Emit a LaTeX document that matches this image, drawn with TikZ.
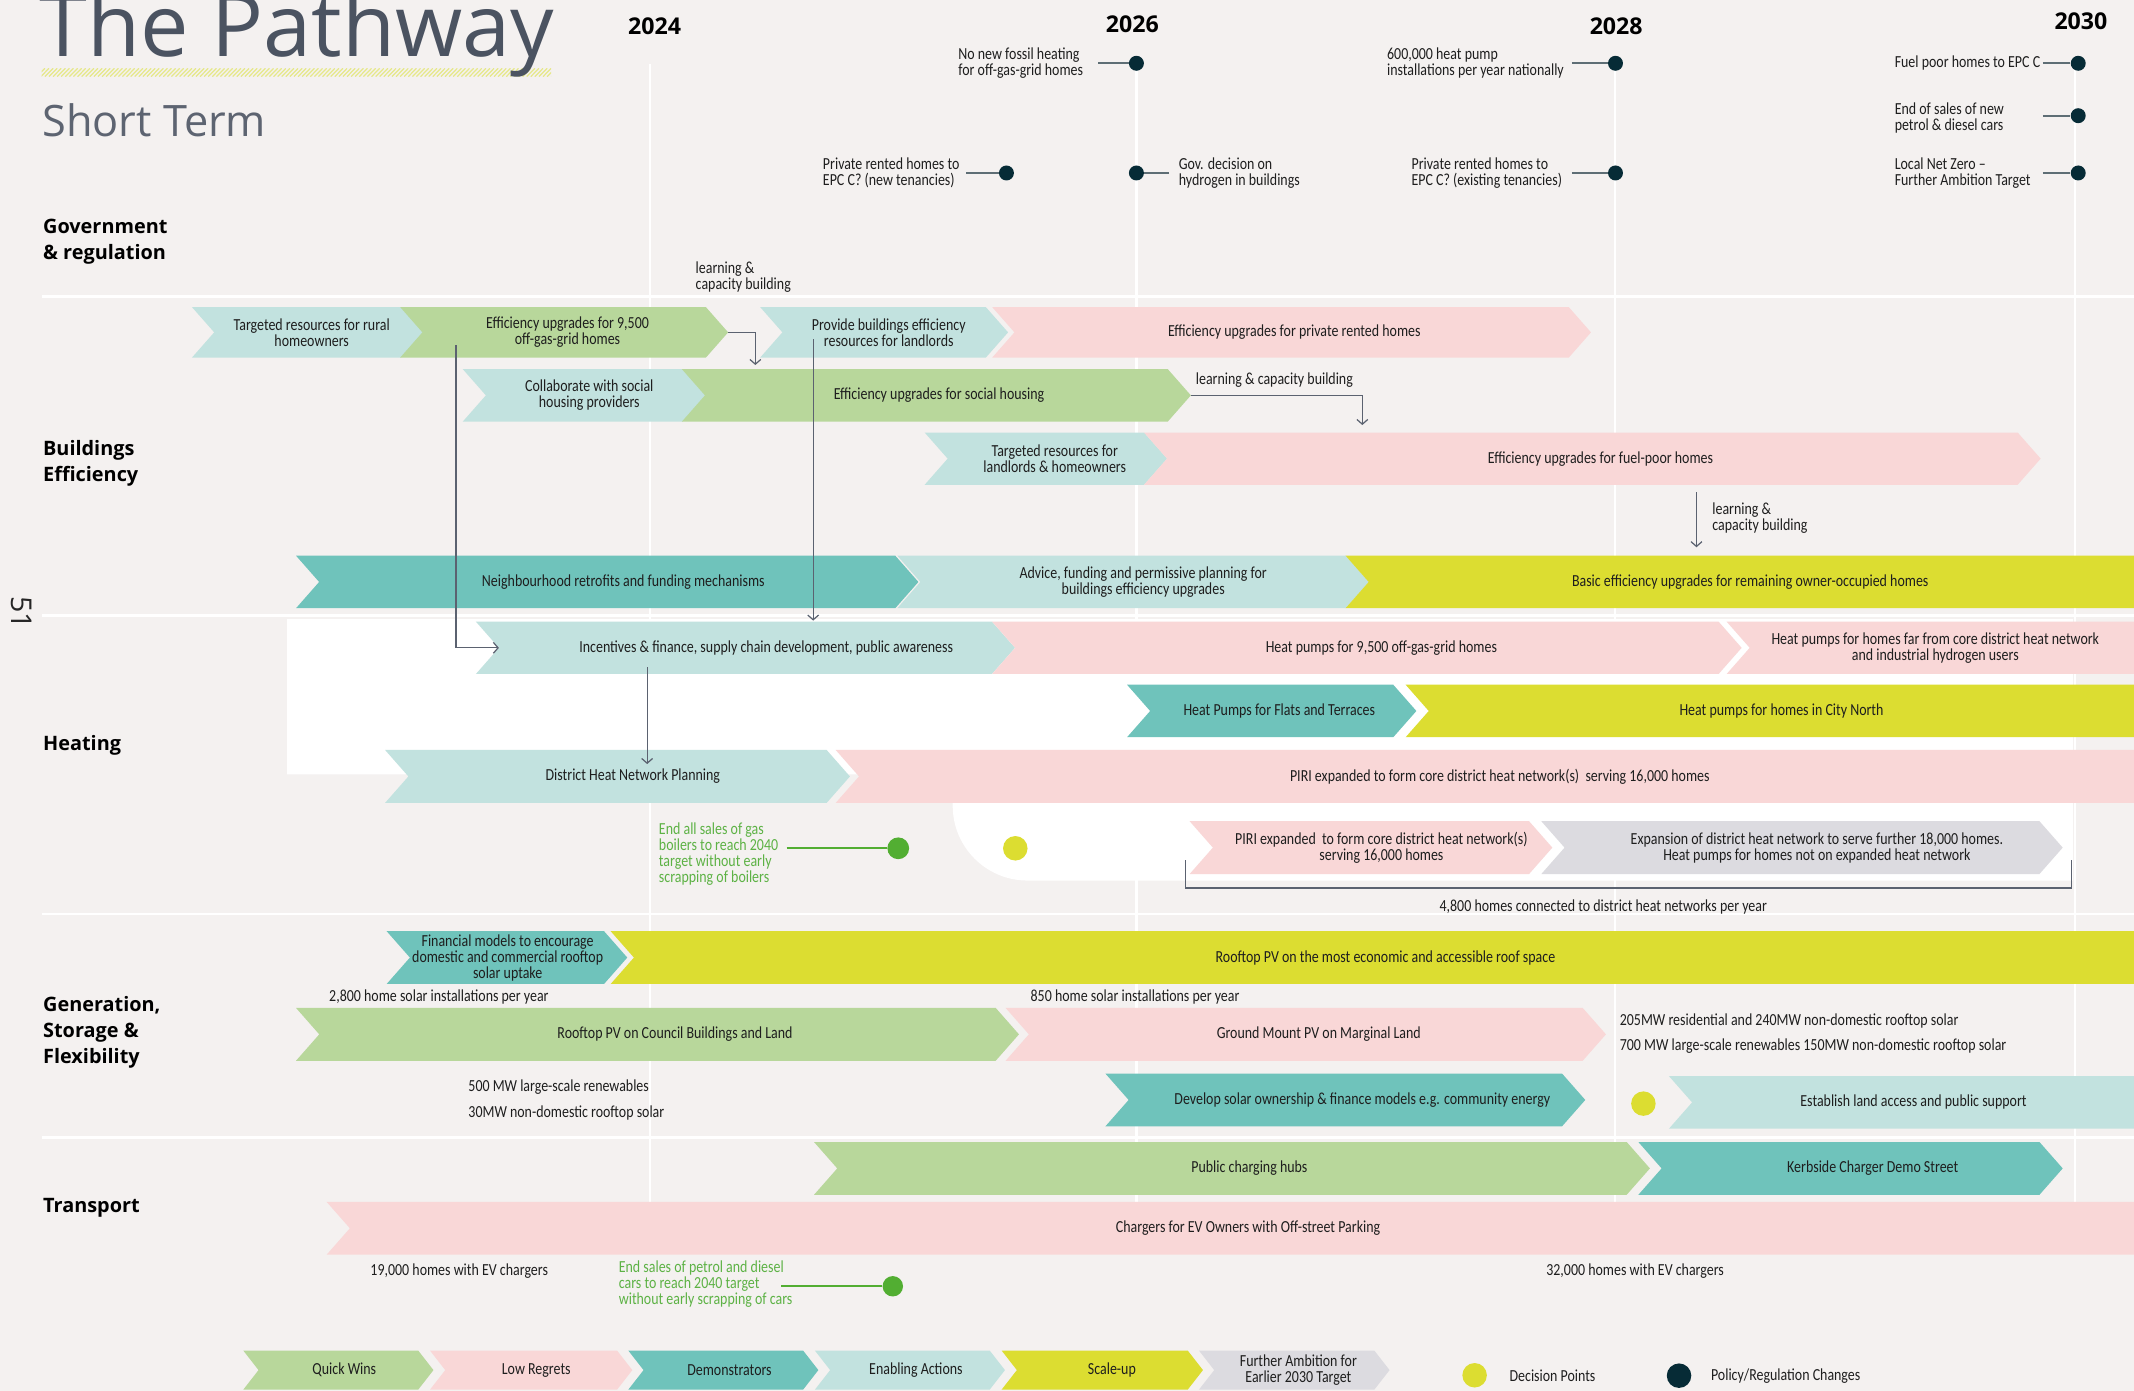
\documentclass[tikz,border=0pt]{standalone}
\usepackage{fontspec}
\usetikzlibrary{arrows.meta}
\newfontfamily\lblfont{Carlito}[FakeStretch=0.826]
\newfontfamily\hdfont{Open Sans}
\definecolor{bgc}{HTML}{F4F1F0}
\definecolor{lteal}{HTML}{C2E2DF}
\definecolor{lgreen}{HTML}{B8D79B}
\definecolor{lpink}{HTML}{F9D7D7}
\definecolor{tealc}{HTML}{6FC3BB}
\definecolor{yel}{HTML}{DCDD31}
\definecolor{lgrey}{HTML}{DCDBE0}
\definecolor{navy}{HTML}{062B36}
\definecolor{gdotc}{HTML}{52AE32}
\definecolor{gtext}{HTML}{5DB245}
\definecolor{labc}{HTML}{1E1E1E}
\definecolor{connc}{HTML}{5B6270}
\definecolor{plinec}{HTML}{5E6E75}
\definecolor{titlec}{HTML}{4B5361}
\definecolor{hatchc}{HTML}{E6E88A}
\def\dratio{0.88}
\newcommand\chev[8]{%
  \pgfmathsetmacro\dd{\dratio*#5}%
  \fill[#6] (#2,#4-#5) -- (#3-\dd,#4-#5) -- (#3,#4) -- (#3-\dd,#4+#5) -- (#2,#4+#5) -- (#2+\dd,#4) -- cycle;
  \coordinate (#1-tip) at (#3,#4);
  \coordinate (#1-notch) at (#2+\dd,#4);
  \node[lbl] (#1) at (#7,#4) {#8};
}
\begin{document}
\begin{tikzpicture}[x=1pt,y=-1pt,
  lbl/.style={font={\lblfont\fontsize{12.4}{11.7}\selectfont}, text=labc, align=center, inner sep=0pt},
  ann/.style={font={\lblfont\fontsize{12.4}{11.7}\selectfont}, text=labc, align=left, anchor=west, inner sep=0pt},
  gann/.style={ann, text=gtext},
  conn/.style={draw=connc, line width=0.9pt, -{Straight Barb[length=3.5pt,width=8pt]}},
  pline/.style={draw=plinec, line width=1.3pt},
  gline/.style={draw=gdotc, line width=1.2pt},
  brk/.style={draw=connc, line width=1pt},
  pdot/.style={circle, fill=navy, inner sep=0pt, minimum size=11pt},
  ydot/.style={circle, fill=yel, inner sep=0pt, minimum size=18pt},
  gdot/.style={circle, fill=gdotc, inner sep=0pt, minimum size=16pt},
  heading/.style={font={\hdfont\bfseries\fontsize{14.6}{19}\selectfont}, text=black, align=left, anchor=west, inner sep=0pt},
  year/.style={font={\hdfont\bfseries\fontsize{17}{20}\selectfont}, text=black, anchor=base, inner sep=0pt},
  gridl/.style={draw=white, line width=2pt}]
\clip (0,0) rectangle (1568,1022);
\fill[bgc] (0,0) rectangle (1568,1022);
% hatch under title
\begin{scope}
  \clip (30.6,50.2) rectangle (405,56.3);
  \foreach \x in {24,27,...,410} \draw[hatchc, line width=0.9pt] (\x,56.3) -- (\x+6,50.2);
\end{scope}
% grid
\foreach \x in {477.6,834.8,1186.6,1524.6} \draw[gridl] (\x,47) -- (\x,883);
\foreach \y in {218,452,671.6,836} \draw[gridl] (30.6,\y) -- (1568,\y);
% white heating area
\fill[white] (211,455) -- (1523,455) -- (1523,647) -- (755,647) .. controls (724.6,647) and (700,622.4) .. (700,592) -- (700,569) -- (211,569) -- cycle;

% titles
\node[anchor=base west, font={\hdfont\fontsize{63.5}{63.5}\selectfont}, text=titlec, inner sep=0pt] (title) at (29,41.6) {The Pathway};
\node[anchor=base west, font={\hdfont\fontsize{31.8}{31.8}\selectfont}, text=titlec!90, inner sep=0pt] (sub) at (31,100.5) {Short Term};
\node[rotate=-90, font={\hdfont\fontsize{21}{21}\selectfont}, text=black!85, inner sep=0pt] (pg) at (16,450) {51};

% years
\node[year] (y24) at (481,25.7) {2024};
\node[year] (y26) at (832,23.7) {2026};
\node[year] (y28) at (1187.5,25.7) {2028};
\node[year] (y30) at (1529,21.5) {2030};

% headings
\node[heading] (hg) at (31.5,177.5) {Government\\\& regulation};
\node[heading] (hb) at (31.5,340.5) {Buildings\\Efficiency};
\node[heading] (hh) at (31.5,548) {Heating};
\node[heading] (hgen) at (31.5,758.5) {Generation,\\Storage \&\\Flexibility};
\node[heading] (ht) at (31.5,887.5) {Transport};

% buildings efficiency
\chev{c1}{141}{311}{244.2}{18.6}{lteal}{229}{Targeted resources for rural\\homeowners}
\chev{c2}{294}{535}{244.2}{18.6}{lgreen}{417}{Efficiency upgrades for 9,500\\off-gas-grid homes}
\chev{c3}{558.5}{740.7}{244.2}{18.6}{lteal}{653}{Provide buildings efficiency\\resources for landlords}
\chev{c4}{729}{1169}{244.2}{18.6}{lpink}{951}{Efficiency upgrades for private rented homes}
\chev{c5}{340}{518.5}{290.5}{19.3}{lteal}{433}{Collaborate with social\\housing providers}
\chev{c6}{501}{875}{290.5}{19.3}{lgreen}{690}{Efficiency upgrades for social housing}
\chev{c7}{679.4}{857.5}{337}{19.2}{lteal}{775}{Targeted resources for\\landlords \& homeowners}
\chev{c8}{840.6}{1499.4}{337}{19.2}{lpink}{1176}{Efficiency upgrades for fuel-poor homes}
\chev{c9}{217.5}{674.8}{427.6}{19.3}{tealc}{458}{Neighbourhood retrofits and funding mechanisms}
\chev{c10}{659.3}{1005.9}{427.6}{19.3}{lteal}{840}{Advice, funding and permissive planning for\\buildings efficiency upgrades}
\chev{c11}{988.7}{1640}{427.6}{19.3}{yel}{1286}{Basic efficiency upgrades for remaining owner-occupied homes}

% heating
\chev{c12}{349.7}{745.8}{476}{19.2}{lteal}{563}{Incentives \& finance, supply chain development, public awareness}
\chev{c13}{729}{1279.7}{476}{19.2}{lpink}{1015}{Heat pumps for 9,500 off-gas-grid homes}
\chev{c14}{1268.7}{1640}{476}{19.2}{lpink}{1422}{Heat pumps for homes far from core district heat network\\and industrial hydrogen users}
\chev{c15}{828.1}{1040.7}{522.4}{19.3}{tealc}{940}{Heat Pumps for Flats and Terraces}
\chev{c16}{1032.8}{1640}{522.4}{19.3}{yel}{1309}{Heat pumps for homes in City North}
\chev{c17}{282.9}{624.5}{570.5}{19.5}{lteal}{465}{District Heat Network Planning}
\chev{c18}{614}{1640}{570.5}{19.5}{lpink}{1102}{PIRI expanded to form core district heat network(s)\ \ serving 16,000 homes}
\chev{c19}{874.1}{1140.6}{622.8}{19.4}{lpink}{1015}{PIRI expanded\ \ to form core district heat network(s)\\serving 16,000 homes}
\chev{c20}{1132.5}{1515.6}{622.8}{19.4}{lgrey}{1335}{Expansion of district heat network to serve further 18,000 homes.\\Heat pumps for homes not on expanded heat network}

% generation
\chev{c21}{284.1}{460.9}{703.6}{19.4}{tealc}{373}{Financial models to encourage\\domestic and commercial rooftop\\solar uptake}
\chev{c22}{448.7}{1640}{703.6}{19.4}{yel}{1018}{Rooftop PV on the most economic and accessible roof space}
\chev{c23}{217.5}{748.7}{760}{19.4}{lgreen}{496}{Rooftop PV on Council Buildings and Land}
\chev{c24}{738.9}{1180}{760}{19.4}{lpink}{969}{Ground Mount PV on Marginal Land}
\chev{c25}{812.2}{1164.8}{808.2}{19.4}{tealc}{1001}{Develop solar ownership \& finance models e.g. community energy}
\chev{c26}{1226.3}{1640}{810}{19.3}{lteal}{1406}{Establish land access and public support}

% transport
\chev{c27}{598.1}{1212.3}{858.5}{19.4}{lgreen}{918}{Public charging hubs}
\chev{c28}{1203.8}{1515.6}{858.5}{19.4}{tealc}{1376}{Kerbside Charger Demo Street}
\chev{c29}{240}{1640}{902.5}{19.4}{lpink}{917}{Chargers for EV Owners with Off-street Parking}

% legend
\def\dratio{0.78}
\chev{L1}{178.8}{318.5}{1006.7}{14.3}{lgreen}{253}{Quick Wins}
\chev{L2}{316}{464.6}{1006.7}{14.3}{lpink}{394}{Low Regrets}
\chev{L3}{461.7}{601.3}{1006.7}{14.3}{tealc}{536}{Demonstrators}
\chev{L4}{598.8}{738.4}{1006.7}{14.3}{lteal}{673}{Enabling Actions}
\chev{L5}{736}{883.9}{1006.7}{14.3}{yel}{817}{Scale-up}
\chev{L6}{881}{1021}{1006.7}{14.3}{lgrey}{954}{Further Ambition for\\Earlier 2030 Target}
\node[ydot] (ld1) at (1083.5,1010.5) {};
\node[ann] (ld1t) at (1109,1010.5) {Decision Points};
\node[pdot, minimum size=18pt] (ld2) at (1233.7,1010.8) {};
\node[ann] (ld2t) at (1257,1010.8) {Policy/Regulation Changes};

% connectors
\node[ann] (lcA) at (511,203.3) {learning \&\\capacity building};
\coordinate (lcAend) at (555,268.2);
\draw[conn] (c2-tip) -| (lcAend);
\node[ann] (lcB) at (878.5,279.2) {learning \& capacity building};
\coordinate (lcBend) at (1001,312.3);
\draw[conn] (c6-tip) -| (lcBend);
\node[ann] (lcC) at (1258,381) {learning \&\\capacity building};
\coordinate (lcCs) at (1246.5,361.7);
\coordinate (lcCe) at (1246.5,402.1);
\draw[conn] (lcCs) -- (lcCe);
\coordinate (dS) at (335,253.5);
\draw[conn] (dS) |- (c12-notch);
\coordinate (eS) at (597.5,249.3);
\coordinate (eE) at (597.5,456);
\draw[conn] (eS) -- (eE);
\coordinate (fS) at (475.5,490.3);
\coordinate (fE) at (475.5,561.4);
\draw[conn] (fS) -- (fE);

% bracket
\coordinate (brL) at (871,632);
\coordinate (brR) at (1522,632);
\draw[brk] (brL) -- ++(0,20.5) -| (brR);
\node[lbl] (brT) at (1178,666.2) {4,800 homes connected to district heat networks per year};

% decision dots and green notes
\node[ydot] (dd1) at (746,623.3) {};
\node[ydot] (dd2) at (1207.5,810.9) {};
\node[gdot] (gd1) at (660,623.3) {};
\coordinate (g1s) at (578,623.3);
\draw[gline] (g1s) -- (gd1);
\node[gann] (g1) at (484,627.3) {End all sales of gas\\boilers to reach 2040\\target without early\\scrapping of boilers};
\node[gdot, minimum size=15pt] (gd2) at (656,945.1) {};
\coordinate (g2s) at (574,945.1);
\draw[gline] (g2s) -- (gd2);
\node[gann] (g2) at (454.5,943.4) {End sales of petrol and diesel\\cars to reach 2040 target\\without early scrapping of cars};

% generation / transport notes
\node[lbl] (s1) at (322.5,732.5) {2,800 home solar installations per year};
\node[lbl] (s2) at (834,732.5) {850 home solar installations per year};
\node[ann] (s3) at (1190,750) {205MW residential and 240MW non-domestic rooftop solar};
\node[ann] (s4) at (1190,768.3) {700 MW large-scale renewables 150MW non-domestic rooftop solar};
\node[ann] (s5) at (344,798.7) {500 MW large-scale renewables};
\node[ann] (s6) at (344,817.8) {30MW non-domestic rooftop solar};
\node[ann] (t1) at (272,933.6) {19,000 homes with EV chargers};
\node[ann] (t2) at (1136,933.6) {32,000 homes with EV chargers};

% policy dots
\node[pdot] (p1) at (835,46.5) {};
\node[pdot] (p2) at (739.5,127.1) {};
\node[pdot] (p3) at (835,127.1) {};
\node[pdot] (p4) at (1187,46.5) {};
\node[pdot] (p5) at (1187,127.1) {};
\node[pdot] (p6) at (1527,46.5) {};
\node[pdot] (p7) at (1527,85) {};
\node[pdot] (p8) at (1527,127.1) {};
\coordinate (p1s) at (807,46.5);
\coordinate (p2s) at (710,127.1);
\coordinate (p3s) at (859,127.1);
\coordinate (p4s) at (1155,46.5);
\coordinate (p5s) at (1155,127.1);
\coordinate (p6s) at (1501,46.5);
\coordinate (p7s) at (1501,85);
\coordinate (p8s) at (1501,127.1);
\foreach \i in {1,...,8} \draw[pline] (p\i s) -- (p\i);
\node[ann] (a1) at (704,46.5) {No new fossil heating\\for off-gas-grid homes};
\node[ann] (a2) at (604.5,127.1) {Private rented homes to\\EPC C? (new tenancies)};
\node[ann] (a3) at (866,127.1) {Gov. decision on\\hydrogen in buildings};
\node[ann] (a4) at (1019,46.5) {600,000 heat pump\\installations per year nationally};
\node[ann] (a5) at (1037,127.1) {Private rented homes to\\EPC C? (existing tenancies)};
\node[ann] (a6) at (1392,46.5) {Fuel poor homes to EPC C};
\node[ann] (a7) at (1392,86.7) {End of sales of new\\petrol \& diesel cars};
\node[ann] (a8) at (1392,127.1) {Local Net Zero –\\Further Ambition Target};
\end{tikzpicture}
\end{document}
